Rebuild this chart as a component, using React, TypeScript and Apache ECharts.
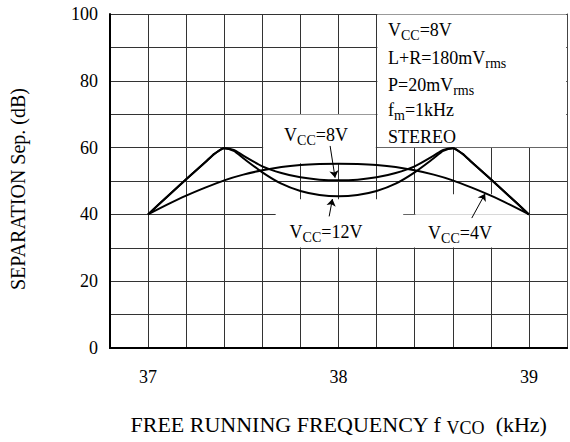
import React, { useEffect, useRef } from 'react';
import * as echarts from 'echarts';

// Frequency (kHz) sample points
const freq812 = [37.0, 37.1, 37.2, 37.3, 37.35, 37.4, 37.45, 37.5, 37.6, 37.7, 37.8, 37.9, 38.0, 38.1, 38.2, 38.3, 38.4, 38.5, 38.55, 38.6, 38.65, 38.7, 38.8, 38.9, 39.0];
const sepVcc8 = [40, 45.3, 50.5, 55.6, 58.2, 59.8, 59.3, 57.6, 54.4, 52.4, 51.1, 50.4, 50.2, 50.4, 51.1, 52.4, 54.4, 57.6, 59.3, 59.8, 58.2, 55.6, 50.5, 45.3, 40];
const sepVcc12 = [40, 45.3, 50.5, 55.6, 58.2, 59.8, 59.0, 56.8, 52.6, 49.2, 47.0, 45.8, 45.4, 45.8, 47.0, 49.2, 52.6, 56.8, 59.0, 59.8, 58.2, 55.6, 50.5, 45.3, 40];
const freq4 = [37.0, 37.1, 37.2, 37.3, 37.4, 37.5, 37.6, 37.7, 37.8, 37.9, 38.0, 38.1, 38.2, 38.3, 38.4, 38.5, 38.6, 38.7, 38.8, 38.9, 39.0];
const sepVcc4 = [40, 42.9, 45.6, 48.0, 50.2, 51.9, 53.2, 54.2, 54.8, 55.1, 55.2, 55.1, 54.8, 54.2, 53.2, 51.9, 50.2, 48.0, 45.6, 42.9, 40];

const xTickLabels = [37, 38, 39];
const yTickLabels = [0, 20, 40, 60, 80, 100];

const FONT = '"Liberation Serif", "Times New Roman", serif';

export default function App() {
  const ref = useRef<HTMLDivElement>(null);
  useEffect(() => {
    const chart = echarts.init(ref.current!, null, { renderer: 'svg' });
    const pair = (xs: number[], ys: number[]) => xs.map((x, i) => [x, ys[i]]);
    const e = 0.004;
    const ey = 0.12;
    const area = (x1: number, y1: number, x2: number, y2: number) => [
      { coord: [x1, y1] },
      { coord: [x2, y2] },
    ];
    const rich = {
      m: { fontSize: 18, fontFamily: FONT, color: '#000', lineHeight: 24 },
      s: { fontSize: 14, fontFamily: FONT, color: '#000', lineHeight: 14, verticalAlign: 'bottom' },
    };
    const txt = (x: number, y: number, text: string, align = 'left') => ({
      type: 'text',
      x,
      y,
      z: 100,
      style: { text, rich, textAlign: align, verticalAlign: 'middle', fill: '#000' },
    });
    const curve = (name: string, data: number[][]) => ({
      name,
      type: 'line',
      data,
      z: 3,
      symbol: 'none',
      smooth: 0.25,
      lineStyle: { color: '#000', width: 2 },
      silent: true,
    });
    chart.setOption({
      animation: false,
      backgroundColor: '#fff',
      grid: { left: 109, top: 14, width: 461, height: 340 },
      xAxis: [
        {
          type: 'value',
          min: 36.8,
          max: 39.2,
          interval: 0.2,
          axisLine: { show: true, lineStyle: { color: '#000', width: 2 } },
          axisTick: { show: false },
          axisLabel: {
            margin: 20,
            fontSize: 18,
            fontFamily: FONT,
            color: '#000',
            formatter: (v: number) => {
              const t = xTickLabels.find((k) => Math.abs(k - v) < 1e-6);
              return t === undefined ? '' : String(t);
            },
          },
          splitLine: { show: true, lineStyle: { color: '#333', width: 1 } },
          name: 'FREE RUNNING FREQUENCY f {s|VCO}  (kHz)',
          nameLocation: 'middle',
          nameGap: 63,
          nameTextStyle: {
            fontSize: 22,
            fontFamily: FONT,
            color: '#000',
            lineHeight: 26,
            rich: {
              s: { fontSize: 18, fontFamily: FONT, color: '#000', lineHeight: 14, verticalAlign: 'bottom' },
            },
          },
        },
        {
          type: 'value',
          position: 'top',
          min: 36.8,
          max: 39.2,
          interval: 0.2,
          axisLine: { show: true, lineStyle: { color: '#000', width: 2 } },
          axisTick: { show: false },
          axisLabel: { show: false },
          splitLine: { show: false },
        },
      ],
      yAxis: [
        {
          type: 'value',
          min: 0,
          max: 100,
          interval: 10,
          axisLine: { show: true, lineStyle: { color: '#000', width: 2 } },
          axisTick: { show: false },
          axisLabel: {
            margin: 12,
            fontSize: 18,
            fontFamily: FONT,
            color: '#000',
            formatter: (v: number) => (yTickLabels.includes(v) ? String(v) : ''),
          },
          splitLine: { show: true, lineStyle: { color: '#333', width: 1 } },
          name: 'SEPARATION Sep. (dB)',
          nameLocation: 'middle',
          nameGap: 82,
          nameRotate: 90,
          nameTextStyle: { fontSize: 20, fontFamily: FONT, color: '#000', padding: [0, 16, 0, 0] },
        },
        {
          type: 'value',
          position: 'right',
          min: 0,
          max: 100,
          interval: 10,
          axisLine: { show: true, lineStyle: { color: '#444', width: 1 } },
          axisTick: { show: false },
          axisLabel: { show: false },
          splitLine: { show: false },
        },
      ],
      series: [
        {
          type: 'line',
          data: [],
          z: 1,
          silent: true,
          markArea: {
            silent: true,
            itemStyle: { color: '#fff', borderWidth: 0 },
            data: [
              area(38.2 + e, 60 + ey, 39.2 - e, 100 - ey),
              area(37.6 + e, 55.3, 38.2 - e, 70 - ey),
              area(37.67, 30 + ey, 38.34, 44.5),
              area(38.34, 30 + ey, 39.0 - e, 39.9),
              area(38.4 + e, 39.9, 39.0 - e, 46),
            ],
          },
        },
        {
          type: 'line',
          data: [],
          z: 4,
          silent: true,
          markLine: {
            silent: true,
            symbol: ['none', 'arrow'],
            symbolSize: 7,
            label: { show: false },
            lineStyle: { color: '#000', width: 1, type: 'solid' },
            data: [
              [{ coord: [37.956, 60.5] }, { coord: [37.982, 51.0] }],
              [{ coord: [37.951, 39.4] }, { coord: [37.968, 44.6] }],
              [{ coord: [38.70, 38.9] }, { coord: [38.77, 46.2] }],
            ],
          },
        },
        curve('VCC=4V', pair(freq4, sepVcc4)),
        curve('VCC=8V', pair(freq812, sepVcc8)),
        curve('VCC=12V', pair(freq812, sepVcc12)),
      ],
      graphic: [
        txt(388, 30, '{m|V}{s|CC}{m|=8V}'),
        txt(388, 58, '{m|L+R=180mV}{s|rms}'),
        txt(388, 85, '{m|P=20mV}{s|rms}'),
        txt(388, 110, '{m|f}{s|m}{m|=1kHz}'),
        txt(388, 137, '{m|STEREO}'),
        txt(316, 135, '{m|V}{s|CC}{m|=8V}', 'center'),
        txt(326, 232, '{m|V}{s|CC}{m|=12V}', 'center'),
        txt(460, 233, '{m|V}{s|CC}{m|=4V}', 'center'),
      ],
    });
    return () => chart.dispose();
  }, []);
  return (
    <div
      ref={ref}
      style={{ position: 'fixed', left: 0, top: 0, width: 570, height: 442, background: '#fff' }}
    />
  );
}
